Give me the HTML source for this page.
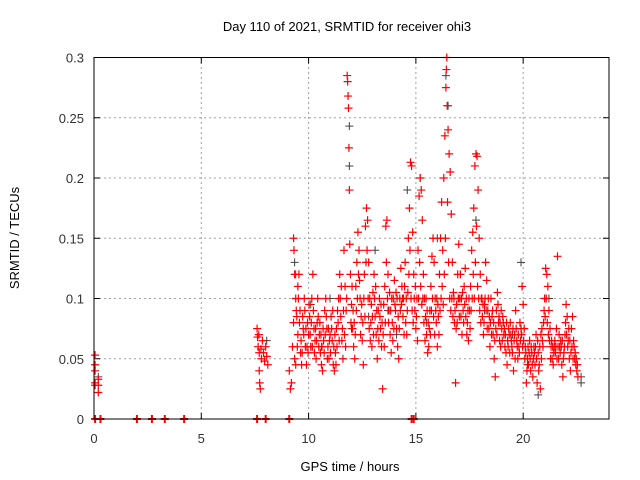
<!DOCTYPE html>
<html><head><meta charset="utf-8"><style>
body{margin:0;background:#fff;}
svg{display:block;font-family:"Liberation Sans",sans-serif;}
</style></head><body>
<svg id="chart" width="640" height="480" viewBox="0 0 640 480">
<rect width="640" height="480" fill="#fff"/>
<text x="347" y="31" font-size="13" text-anchor="middle" fill="#000">Day 110 of 2021, SRMTID for receiver ohi3</text>
<g id="grid"></g>
<g id="ticks"></g>
<g id="marks"></g>
<rect x="94" y="57.5" width="515" height="361.5" fill="none" stroke="#000" stroke-width="1"/>
<text x="350" y="471" font-size="13" text-anchor="middle">GPS time / hours</text>
<text transform="translate(19,238) rotate(-90)" font-size="13" text-anchor="middle">SRMTID / TECUs</text>
</svg>
<script>
const xTicks=[0,5,10,15,20];
const yTicks=[0,0.05,0.1,0.15,0.2,0.25,0.3];
const yTickLabels=["0","0.05","0.1","0.15","0.2","0.25","0.3"];
const zeroTimes=[0.05,0.3,2,2.7,3.3,4.2,7.6,8,9.1,14.8,14.9];
const grayPoints=[[9.35,.13],[9.4,.12],[10.1,.095],[11.9,.243],[11.9,.21],[12.0,.075],[13.1,.14],[14.6,.19],[15.2,.2],[16.4,.285],[16.5,.26],[17.8,.165],[19.9,.13],[20.7,.02],[22.7,.035],[22.7,.03],[8.05,.065],[0.2,.035],[12.8,.085],[15.5,.08],[18.2,.09],[21.2,.1],[10.6,.06],[14.1,.07],[17.0,.1],[19.5,.07],[13.7,.09],[16.0,.15],[11.0,.1],[20.2,.045]];
const redPoints=[[0.05,.053],[0.05,.045],[0.05,.04],[0.05,.03],[0.05,.028],[0.2,.033],[0.2,.028],[0.2,.022],
[7.6,.075],[7.62,.068],[7.65,.06],[7.7,.055],[7.7,.04],[7.72,.03],[7.75,.025],[7.8,.05],[7.85,.065],[7.9,.055],[7.95,.048],[8.0,.06],[8.05,.052],[8.1,.045],[7.68,.07],[7.78,.058],
[9.1,.04],[9.15,.025],[9.2,.03],[9.25,.06],[9.3,.15],[9.32,.14],[9.35,.12],[9.4,.1],[9.45,.085],[9.5,.07],[9.3,.08],[9.35,.05],[9.4,.045],[9.5,.11],[9.55,.12],[9.6,.09],[9.65,.065],[9.7,.055],[9.75,.075],[9.8,.1],[9.85,.06],[9.9,.045],[9.95,.08],[10,.07],[10.05,.085],[10.1,.06],[10.15,.1],[10.2,.12],[10.25,.075],[10.3,.065],[10.35,.05],[10.4,.08],[10.45,.085],[10.5,.07],[10.55,.055],[10.6,.045],[10.65,.04],[10.7,.065],[10.75,.09],[10.8,.1],[10.85,.075],[10.9,.06],[10.95,.05],[11,.07],[11.05,.085],[11.1,.065],[11.15,.045],[11.2,.04],[11.25,.055],[11.3,.075],[11.35,.09],[11.4,.1],[11.45,.12],[11.5,.085],[11.55,.065],[11.6,.05],[11.65,.14],[11.7,.11],[11.75,.09],[11.8,.285],[11.82,.28],[11.84,.268],[11.86,.258],[11.88,.225],[11.9,.19],[11.92,.145],[11.95,.12],[12,.095],[12.05,.075],[12.1,.06],[12.15,.05],[12.2,.11],[12.25,.13],[12.3,.155],[12.35,.14],[12.4,.1],[12.45,.085],[12.5,.065],[12.55,.045],[12.6,.12],[12.65,.16],[12.7,.175],[12.75,.165],[12.8,.13],[12.85,.1],[12.9,.08],[12.95,.06],[13,.105],[13.05,.12],[13.1,.085],[13.15,.07],[13.2,.05],[13.25,.09],[13.3,.1],[13.35,.075],[13.4,.06],[13.45,.025],[13.5,.095],[13.55,.11],[13.6,.16],[13.65,.165],[13.7,.12],[13.75,.09],[13.8,.07],[13.85,.055],[13.9,.08],[13.95,.1],[14,.115],[14.05,.09],[14.1,.075],[14.15,.06],[14.2,.05],[14.25,.1],[14.3,.125],[14.35,.11],[14.4,.085],[14.45,.07],[14.5,.13],[14.55,.1],[14.6,.09],[14.65,.15],[14.7,.175],[14.75,.213],[14.8,.21],[14.85,.155],[14.9,.12],[14.95,.09],[15,.075],[15.05,.1],[15.1,.14],[15.15,.185],[15.2,.2],[15.25,.19],[15.3,.165],[15.35,.12],[15.4,.1],[15.45,.085],[15.5,.07],[15.55,.055],[15.6,.06],[15.65,.09],[15.7,.11],[15.75,.135],[15.8,.15],[15.85,.13],[15.9,.1],[15.95,.08],[16,.06],[16.05,.085],[16.1,.12],[16.15,.15],[16.2,.18],[16.25,.14],[16.3,.2],[16.35,.235],[16.4,.275],[16.42,.29],[16.44,.3],[16.46,.26],[16.5,.24],[16.55,.22],[16.6,.205],[16.65,.17],[16.7,.13],[16.75,.105],[16.8,.08],[16.85,.03],[16.9,.095],[16.95,.12],[17,.145],[17.05,.1],[17.1,.085],[17.15,.07],[17.2,.09],[17.25,.11],[17.3,.125],[17.35,.1],[17.4,.08],[17.45,.065],[17.5,.09],[17.55,.11],[17.6,.14],[17.65,.155],[17.7,.175],[17.75,.21],[17.8,.22],[17.85,.218],[17.9,.19],[17.95,.15],[18,.12],[18.05,.1],[18.1,.085],[18.15,.07],[18.2,.095],[18.25,.13],[18.3,.115],[18.35,.09],[18.4,.075],[18.45,.06],[18.5,.1],[18.55,.085],[18.6,.07],[18.65,.05],[18.7,.035],[18.75,.09],[18.8,.105],[18.85,.08],[18.9,.065],[18.95,.06],[19,.075],[19.05,.085],[19.1,.07],[19.15,.06],[19.2,.055],[19.25,.045],[19.3,.06],[19.35,.07],[19.4,.08],[19.45,.065],[19.5,.055],[19.55,.04],[19.6,.07],[19.65,.09],[19.7,.065],[19.75,.05],[19.8,.06],[19.85,.08],[19.9,.075],[19.95,.11],[20,.095],[20.05,.075],[20.1,.06],[20.15,.03],[20.2,.05],[20.25,.045],[20.3,.065],[20.35,.04],[20.4,.055],[20.45,.035],[20.5,.06],[20.55,.045],[20.6,.07],[20.65,.03],[20.7,.055],[20.75,.045],[20.8,.025],[20.85,.05],[20.9,.065],[20.95,.08],[21,.1],[21.05,.125],[21.1,.12],[21.15,.11],[21.2,.09],[21.25,.075],[21.3,.06],[21.35,.05],[21.4,.045],[21.45,.06],[21.5,.055],[21.55,.075],[21.6,.135],[21.65,.05],[21.7,.06],[21.75,.065],[21.8,.045],[21.85,.035],[21.9,.055],[21.95,.07],[22,.095],[22.05,.085],[22.1,.065],[22.15,.05],[22.2,.04],[22.25,.075],[22.3,.085],[22.35,.065],[22.4,.05],[22.45,.045],[22.5,.04],[22.55,.035],
[9.425,.09],[9.475,.06],[9.525,.1],[9.575,.08],[9.625,.055],[9.675,.045],[9.725,.085],[9.775,.07],[9.825,.09],[9.875,.075],[9.925,.06],[9.975,.055],[10.025,.095],[10.075,.07],[10.125,.08],[10.175,.06],[10.225,.09],[10.275,.055],[10.325,.075],[10.375,.065],[10.425,.1],[10.475,.06],[10.525,.08],[10.575,.07],[10.625,.06],[10.675,.075],[10.725,.055],[10.775,.07],[10.825,.085],[10.875,.05],[10.925,.075],[10.975,.065],[11.025,.055],[11.075,.075],[11.125,.09],[11.175,.06],[11.225,.07],[11.275,.045],[11.325,.06],[11.375,.08],[11.425,.065],[11.475,.1],[11.525,.11],[11.575,.075],[11.625,.09],[11.675,.07],[11.725,.06],[11.775,.1],[11.975,.08],[12.025,.11],[12.075,.09],[12.125,.08],[12.175,.07],[12.225,.09],[12.275,.1],[12.325,.12],[12.375,.115],[12.425,.07],[12.475,.095],[12.525,.08],[12.575,.1],[12.625,.085],[12.675,.13],[12.725,.14],[12.775,.1],[12.825,.075],[12.875,.065],[12.925,.095],[12.975,.085],[13.025,.07],[13.075,.1],[13.125,.11],[13.175,.09],[13.225,.075],[13.275,.065],[13.325,.085],[13.375,.095],[13.425,.08],[13.475,.07],[13.525,.06],[13.575,.08],[13.625,.13],[13.675,.1],[13.725,.08],[13.775,.105],[13.825,.09],[13.875,.1],[13.925,.065],[13.975,.075],[14.025,.095],[14.075,.105],[14.125,.1],[14.175,.085],[14.225,.075],[14.275,.09],[14.325,.095],[14.375,.1],[14.425,.1],[14.475,.11],[14.525,.08],[14.575,.07],[14.625,.105],[14.675,.12],[14.725,.14],[14.775,.1],[14.825,.09],[14.875,.08],[14.925,.1],[14.975,.11],[15.025,.085],[15.075,.065],[15.125,.1],[15.175,.13],[15.225,.11],[15.275,.095],[15.325,.1],[15.375,.08],[15.425,.065],[15.475,.1],[15.525,.09],[15.575,.08],[15.625,.075],[15.675,.07],[15.725,.09],[15.775,.1],[15.825,.085],[15.875,.07],[15.925,.09],[15.975,.1],[16.025,.095],[16.075,.07],[16.125,.09],[16.175,.1],[16.225,.11],[16.275,.095],[16.325,.12],[16.375,.15],[16.475,.18],[16.525,.13],[16.575,.1],[16.625,.09],[16.675,.1],[16.725,.085],[16.775,.1],[16.825,.09],[16.875,.075],[16.925,.08],[16.975,.1],[17.025,.085],[17.075,.12],[17.125,.1],[17.175,.105],[17.225,.08],[17.275,.095],[17.325,.085],[17.375,.07],[17.425,.09],[17.475,.1],[17.525,.075],[17.575,.09],[17.625,.1],[17.675,.12],[17.725,.1],[17.775,.13],[17.825,.16],[17.875,.11],[17.925,.1],[17.975,.09],[18.025,.08],[18.075,.1],[18.125,.095],[18.175,.08],[18.225,.1],[18.275,.09],[18.325,.075],[18.375,.1],[18.425,.085],[18.475,.08],[18.525,.07],[18.575,.09],[18.625,.08],[18.675,.065],[18.725,.075],[18.775,.07],[18.825,.095],[18.875,.085],[18.925,.08],[18.975,.09],[19.025,.065],[19.075,.08],[19.125,.075],[19.175,.07],[19.225,.08],[19.275,.065],[19.325,.075],[19.375,.055],[19.425,.07],[19.475,.06],[19.525,.075],[19.575,.065],[19.625,.05],[19.675,.075],[19.725,.06],[19.775,.07],[19.825,.055],[19.875,.065],[19.925,.07],[19.975,.06],[20.025,.065],[20.075,.05],[20.125,.055],[20.175,.04],[20.225,.06],[20.275,.055],[20.325,.05],[20.375,.06],[20.425,.045],[20.475,.05],[20.525,.055],[20.575,.06],[20.625,.05],[20.675,.065],[20.725,.04],[20.775,.06],[20.825,.07],[20.875,.075],[20.925,.06],[20.975,.09],[21.025,.085],[21.075,.1],[21.125,.08],[21.175,.07],[21.225,.065],[21.275,.05],[21.325,.065],[21.375,.06],[21.425,.055],[21.475,.065],[21.525,.06],[21.575,.05],[21.625,.06],[21.675,.07],[21.725,.055],[21.775,.06],[21.825,.065],[21.875,.05],[21.925,.06],[21.975,.08],[22.025,.07],[22.075,.06],[22.125,.075],[22.175,.065],[22.225,.055],[22.275,.06],[22.325,.05],[22.375,.06],[22.425,.055],[22.475,.05],[22.525,.045]];

const X0=94,X1=609,Y0=419,Y1=57.5,XMAX=24,YMAX=0.3;
function xs(t){return X0+(X1-X0)*t/XMAX;}
function ys(v){return Y0-(Y0-Y1)*v/YMAX;}
const NS="http://www.w3.org/2000/svg";
function mk(tag,attrs,parent){const e=document.createElementNS(NS,tag);for(const k in attrs)e.setAttribute(k,attrs[k]);parent.appendChild(e);return e;}
const grid=document.getElementById('grid'),ticks=document.getElementById('ticks'),marks=document.getElementById('marks');
xTicks.forEach(t=>{const x=xs(t);
 if(t>0){const g=mk('line',{x1:x,y1:Y0,x2:x,y2:Y1,stroke:'#a0a0a0','stroke-dasharray':'2,3'},grid);
 
 }
 mk('line',{x1:x,y1:Y0,x2:x,y2:Y0-6,stroke:'#000'},ticks);
 mk('line',{x1:x,y1:Y1,x2:x,y2:Y1+6,stroke:'#000'},ticks);
 const l=mk('text',{x:x,y:443,'font-size':13,'text-anchor':'middle',fill:'#333'},ticks);l.textContent=t;
 
 });
yTicks.forEach((v,i)=>{const y=ys(v);
 if(v>0&&v<YMAX){const g=mk('line',{x1:X0,y1:y,x2:X1,y2:y,stroke:'#a0a0a0','stroke-dasharray':'2,3'},grid);
 
 }
 mk('line',{x1:X0,y1:y,x2:X0+6,y2:y,stroke:'#000'},ticks);
 mk('line',{x1:X1,y1:y,x2:X1-6,y2:y,stroke:'#000'},ticks);
 const l=mk('text',{x:84,y:y+5,'font-size':13,'text-anchor':'end',fill:'#333'},ticks);l.textContent=yTickLabels[i];
 
 });
function plus(t,v,c,name,w){const x=xs(t),y=ys(v);
 const p=mk('path',{d:`M${x-4},${y}H${x+4}M${x},${y-4}V${y+4}`,stroke:c,'stroke-width':w,fill:'none'},marks);
 
 }
grayPoints.forEach(p=>plus(p[0],p[1],'#404040','gray-point',1));
redPoints.forEach(p=>plus(p[0],p[1],'#ff0000','red-point',1.2));
zeroTimes.forEach(t=>plus(t,0,'#ff0000','zero-point',2));
</script>
</body></html>
